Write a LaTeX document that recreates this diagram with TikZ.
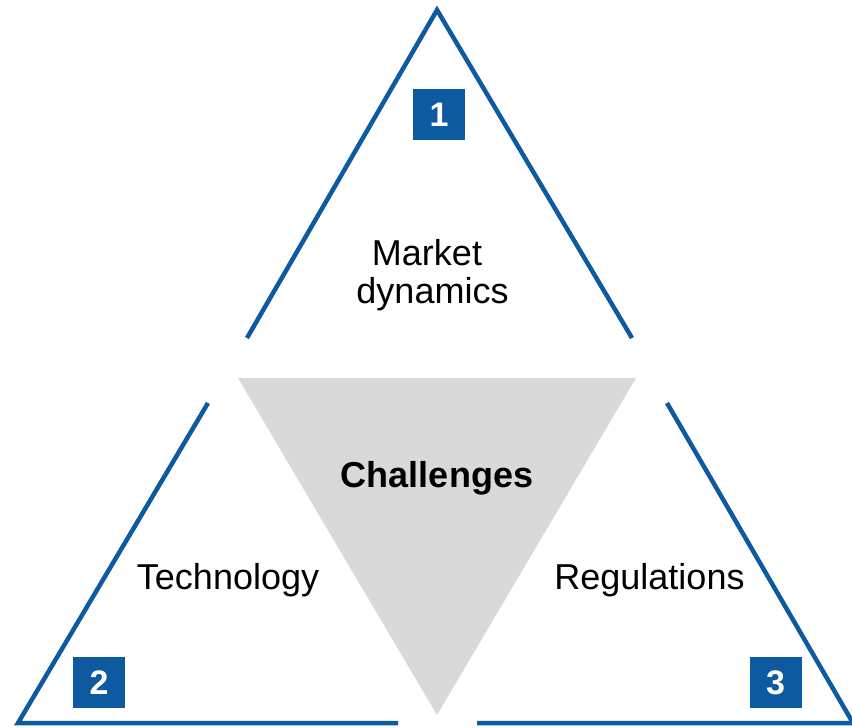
\documentclass[tikz,border=0pt]{standalone}
\usepackage{fontspec}
\setmainfont{Liberation Sans}
\begin{document}
\definecolor{edgeblue}{RGB}{14,90,160}
\definecolor{coregray}{RGB}{217,217,217}
\begin{tikzpicture}[x=1pt,y=-1pt,
  edge/.style={draw=edgeblue,line width=4.5pt,line cap=butt,line join=miter},
  label/.style={font=\fontsize{36}{40}\selectfont,inner sep=0pt,anchor=base},
  numbox/.style={fill=edgeblue,text=white,font=\fontsize{34}{38}\bfseries\selectfont,
    minimum width=52pt,minimum height=51pt,inner sep=0pt}]
\useasboundingbox (0,0) rectangle (852,728);
\clip (0,0) rectangle (852,728);

% outline corners
\coordinate (topL) at (247,338);
\coordinate (apex) at (437,10);
\coordinate (topR) at (632,338);
\coordinate (leftUp) at (208,403);
\coordinate (leftCorner) at (18,723);
\coordinate (leftEnd) at (398,723);
\coordinate (rightUp) at (667,403);
\coordinate (rightCorner) at (853,723);
\coordinate (rightEnd) at (477,723);

% central inverted triangle
\fill[coregray] (238,378) -- (636,378) -- (437,715) -- cycle;

% three open triangle outlines
\draw[edge] (topL) -- (apex) -- (topR);
\draw[edge] (leftUp) -- (leftCorner) -- (leftEnd);
\draw[edge] (rightUp) -- (rightCorner) -- (rightEnd);

% labels
\node[label] (market) at (427,265) {Market};
\node[label] (dyn) at (432.5,303) {dynamics};
\node[label,font=\fontsize{36}{40}\bfseries\selectfont] (core) at (437,487) {Challenges};
\node[label] (tech) at (228,589) {Technology};
\node[label] (reg) at (649.5,589) {Regulations};

% number tags
\node[numbox] (n1) at (439,114.5) {1};
\node[numbox] (n2) at (99,682.5) {2};
\node[numbox] (n3) at (775.5,682.5) {3};
\end{tikzpicture}
\end{document}
